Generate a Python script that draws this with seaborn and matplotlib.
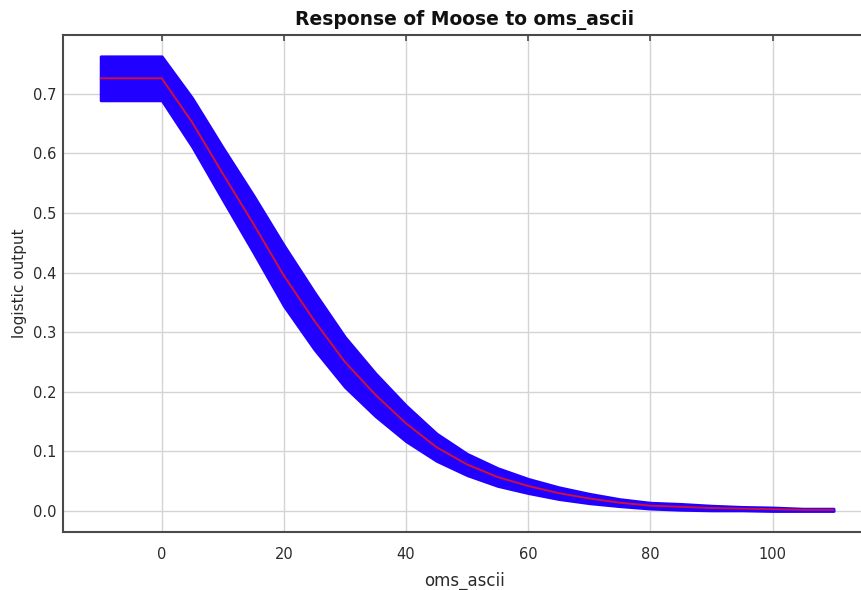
import matplotlib
matplotlib.use("Agg")
import matplotlib.pyplot as plt
import seaborn as sns
import pandas as pd
import numpy as np

# Data
oms_ascii = [-10, -5, 0, 5, 10, 15, 20, 25, 30, 35, 40, 45, 50, 55, 60,
             65, 70, 75, 80, 85, 90, 95, 100, 105, 110]
mean_output = [0.726, 0.726, 0.726, 0.652, 0.566, 0.482, 0.395, 0.319, 0.250,
               0.195, 0.147, 0.107, 0.078, 0.057, 0.042, 0.030, 0.021, 0.014,
               0.009, 0.007, 0.005, 0.004, 0.003, 0.002, 0.002]
sd_output = [0.037, 0.037, 0.037, 0.041, 0.044, 0.048, 0.051, 0.048, 0.042,
             0.036, 0.030, 0.023, 0.018, 0.015, 0.012, 0.010, 0.008, 0.006,
             0.005, 0.005, 0.004, 0.003, 0.003, 0.002, 0.002]
x_ticks = [0, 20, 40, 60, 80, 100]
y_ticks = [0.0, 0.1, 0.2, 0.3, 0.4, 0.5, 0.6, 0.7]

df = pd.DataFrame({"oms_ascii": oms_ascii, "mean": mean_output, "sd": sd_output})
df["lo"] = df["mean"] - df["sd"]
df["hi"] = df["mean"] + df["sd"]

sns.set_style("white")
plt.rcParams["font.family"] = ["DejaVu Sans"]

fig = plt.figure(figsize=(8.61, 5.90), dpi=100)
ax = fig.add_axes([63 / 861, 1 - 532 / 590, (866 - 63) / 861, (532 - 35) / 590])

ax.fill_between(df["oms_ascii"], df["lo"], df["hi"], color="#2200ff",
                edgecolor="#2200ff", linewidth=2.0, joinstyle="round", zorder=2)
sns.lineplot(data=df, x="oms_ascii", y="mean", ax=ax, color="#d0103c",
             linewidth=1.4, zorder=3)

ax.set_xlim(-16.16, 115.3)
ax.set_ylim(-0.0352, 0.7987)
ax.set_xticks(x_ticks)
ax.set_xticklabels([str(t) for t in x_ticks])
ax.set_yticks(y_ticks)
ax.set_yticklabels([f"{t:.1f}" for t in y_ticks])

ax.grid(True, color="#d4d4d4", linewidth=1.0, zorder=0)
ax.set_axisbelow(True)

for side in ["left", "bottom", "top"]:
    ax.spines[side].set_color("#4a4a4a")
    ax.spines[side].set_linewidth(1.5)
ax.spines["right"].set_visible(False)

ax.tick_params(axis="both", direction="in", length=4, width=1.2,
               color="#4a4a4a", labelsize=10.5, labelcolor="#2a2a2a")
ax.tick_params(axis="x", top=True, pad=11)
ax.tick_params(axis="y", pad=5)

ax.set_xlabel("oms_ascii", fontsize=12, color="#2a2a2a", labelpad=7)
ax.set_ylabel("logistic output", fontsize=11, color="#2a2a2a", labelpad=4)
ax.set_title("Response of Moose to oms_ascii", fontsize=13.5, fontweight="bold",
             color="#111111", pad=7)

fig.savefig("out.png", dpi=100)
